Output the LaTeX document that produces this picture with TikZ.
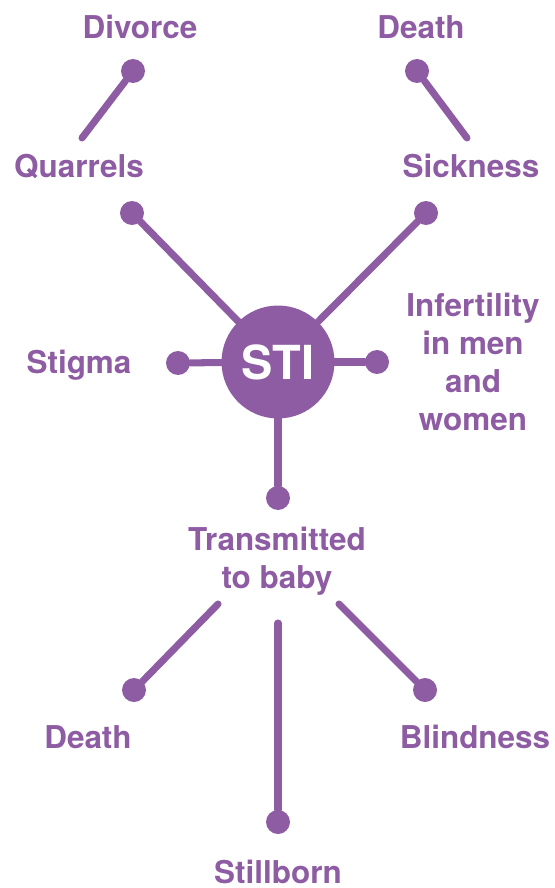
\documentclass[tikz,border=0pt]{standalone}
\usepackage{fontspec}
\setmainfont{TeX Gyre Heros}
\definecolor{stipurple}{RGB}{142,92,163}

\begin{document}
\begin{tikzpicture}[x=0.02cm, y=-0.02cm,
	knob/.style={circle, fill=stipurple, inner sep=0pt, minimum size=0.48cm},
	lbl/.style={anchor=base, text=stipurple, align=center, inner sep=0pt,
		font=\bfseries\fontsize{17.9}{21.6}\selectfont},
	spoke/.style={draw=stipurple, line width=4pt, line cap=round}]
	\useasboundingbox (0,0) rectangle (554,888);
	% centre
	\node[circle, fill=stipurple, minimum size=2.26cm, inner sep=0pt, text=white,
		font=\bfseries\fontsize{26.7}{30}\selectfont] (sti) at (278,362) {STI};
	% dots
	\node[knob] (kDivorce) at (133,71) {};
	\node[knob] (kQuarrels) at (132,213) {};
	\node[knob] (kDeath) at (417,71) {};
	\node[knob] (kSickness) at (426,213) {};
	\node[knob] (kStigma) at (178,363) {};
	\node[knob] (kInfert) at (377,362) {};
	\node[knob] (kBaby) at (278,498) {};
	\node[knob] (kBabyDeath) at (134,690) {};
	\node[knob] (kStillborn) at (278,822) {};
	\node[knob] (kBlind) at (425,690) {};
	\coordinate (cQuarrels) at (82,138);
	\coordinate (cSickness) at (467,138);
	\coordinate (cBabyL) at (218,604);
	\coordinate (cBabyM) at (278,623);
	\coordinate (cBabyR) at (339,604);
	% labels (base = last line)
	\node[lbl] (tDivorce) at (140,39) {Divorce};
	\node[lbl] (tDeath) at (421,39) {Death};
	\node[lbl] (tQuarrels) at (79,178) {Quarrels};
	\node[lbl] (tSickness) at (471,178) {Sickness};
	\node[lbl] (tStigma) at (79,373) {Stigma};
	\node[lbl] (tInfert) at (473,430) {Infertility\\in men\\and\\women};
	\node[lbl] (tBaby) at (277,588) {Transmitted\\to baby};
	\node[lbl] (tBabyDeath) at (88,748) {Death};
	\node[lbl] (tBlind) at (475,748) {Blindness};
	\node[lbl] (tStillborn) at (278,883) {Stillborn};
	% spokes
	\draw[spoke] (kDivorce) -- (cQuarrels);
	\draw[spoke] (kDeath) -- (cSickness);
	\draw[spoke] (kQuarrels) -- (sti);
	\draw[spoke] (kSickness) -- (sti);
	\draw[spoke] (kStigma) -- (sti);
	\draw[spoke] (kInfert) -- (sti);
	\draw[spoke] (sti) -- (kBaby);
	\draw[spoke] (cBabyL) -- (kBabyDeath);
	\draw[spoke] (cBabyM) -- (kStillborn);
	\draw[spoke] (cBabyR) -- (kBlind);
\end{tikzpicture}
\end{document}
